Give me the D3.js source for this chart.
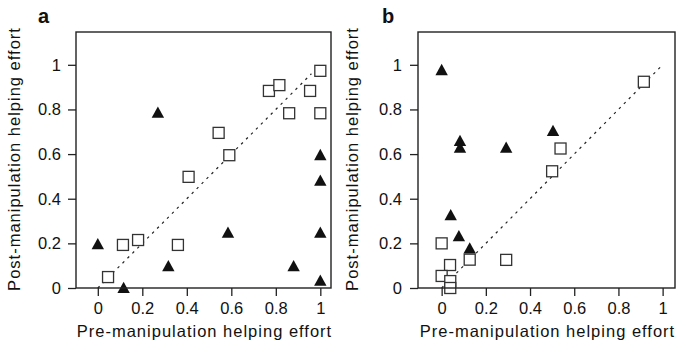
<!DOCTYPE html>
<html><head><meta charset="utf-8">
<script src="https://cdn.jsdelivr.net/npm/d3@7"></script>
<style>body{margin:0;background:#fff}svg{display:block}text{font-family:"Liberation Sans",Arial,sans-serif;fill:#111}</style>
</head><body><svg id="c" width="678" height="348"></svg>
<script>
// Panel a data
const aSquaresX = [1.0, 0.769, 0.816, 0.954, 0.86, 1.0, 0.543, 0.591, 0.408, 0.113, 0.181, 0.36, 0.046];
const aSquaresY = [0.973, 0.883, 0.909, 0.883, 0.783, 0.783, 0.695, 0.595, 0.498, 0.193, 0.215, 0.193, 0.049];
const aTrianglesX = [0.27, 1.0, 1.0, 0.0, 0.116, 0.317, 0.585, 1.0, 0.88, 1.0];
const aTrianglesY = [0.782, 0.592, 0.477, 0.193, -0.003, 0.094, 0.244, 0.244, 0.094, 0.029];
const aLine = [[0, 0], [0.96, 0.96]];
// Panel b data
const bSquaresX = [0.915, 0.538, 0.5, 0.0, 0.127, 0.292, 0.038, 0.0, 0.039, 0.039];
const bSquaresY = [0.924, 0.625, 0.523, 0.2, 0.127, 0.126, 0.103, 0.054, 0.031, 0.0];
const bTrianglesX = [0.0, 0.083, 0.083, 0.292, 0.504, 0.041, 0.078, 0.127];
const bTrianglesY = [0.973, 0.655, 0.625, 0.625, 0.70, 0.323, 0.229, 0.174];
const bLine = [[0, 0], [0.99, 0.99]];
const tickValues = [0, 0.2, 0.4, 0.6, 0.8, 1];
const xTitle = "Pre-manipulation helping effort";
const yTitle = "Post-manipulation helping effort";

const svg = d3.select("#c");
const fmt = d3.format("~g");

function panel(o) {
  const x = d3.scaleLinear().domain(o.xd).range([o.left, o.right]);
  const y = d3.scaleLinear().domain([0, 1.147]).range([288, 32]);
  const g = svg.append("g");
  g.append("line")
    .attr("x1", x(o.line[0][0])).attr("y1", y(o.line[0][1]))
    .attr("x2", x(o.line[1][0])).attr("y2", y(o.line[1][1]))
    .attr("stroke", "#222").attr("stroke-width", 1.2).attr("stroke-dasharray", "2.5,4.5");
  const s = 11;
  g.selectAll(".sq").data(o.sx.map((v, i) => [v, o.sy[i]])).join("rect")
    .attr("x", d => x(d[0]) - s / 2).attr("y", d => y(d[1]) - s / 2)
    .attr("width", s).attr("height", s)
    .attr("fill", "#fff").attr("stroke", "#333").attr("stroke-width", 1.3);
  g.selectAll(".tr").data(o.tx.map((v, i) => [v, o.ty[i]])).join("path")
    .attr("transform", d => `translate(${x(d[0])},${y(d[1])})`)
    .attr("d", "M0,-7L6.2,4.3L-6.2,4.3Z").attr("fill", "#111");
  g.append("rect").attr("x", o.left).attr("y", 32)
    .attr("width", o.right - o.left).attr("height", 288 - 32)
    .attr("fill", "none").attr("stroke", "#222").attr("stroke-width", 1.4);
  const ax = g.append("g").attr("transform", "translate(0,288)")
    .call(d3.axisBottom(x).tickValues(tickValues).tickFormat(fmt).tickSize(8).tickPadding(6.5));
  const ay = g.append("g").attr("transform", `translate(${o.left},0)`)
    .call(d3.axisLeft(y).tickValues(tickValues).tickFormat(fmt).tickSize(8).tickPadding(o.ypad));
  [ax, ay].forEach(a => {
    a.select(".domain").remove();
    a.selectAll(".tick line").attr("stroke", "#222").attr("stroke-width", 1.3);
    a.selectAll("text").attr("font-size", 16.5).attr("fill", "#111")
      .style("font-family", '"Liberation Sans",Arial,sans-serif');
  });
  g.append("text").attr("x", (o.left + o.right) / 2 + 1).attr("y", 337)
    .attr("text-anchor", "middle").attr("font-size", 16.5).style("letter-spacing", "1px")
    .text(xTitle);
  g.append("text").attr("transform", `translate(${o.ytx},159) rotate(-90)`)
    .attr("text-anchor", "middle").attr("font-size", 16.5).style("letter-spacing", "1px")
    .text(yTitle);
  g.append("text").attr("x", o.labx).attr("y", 23)
    .attr("font-size", 20).attr("font-weight", "bold").text(o.label);
}

panel({xd: [-0.098, 1.048], left: 76, right: 331, line: aLine,
  sx: aSquaresX, sy: aSquaresY, tx: aTrianglesX, ty: aTrianglesY,
  ypad: 7, ytx: 20, labx: 38, label: "a"});
panel({xd: [-0.107, 1.056], left: 418, right: 675, line: bLine,
  sx: bSquaresX, sy: bSquaresY, tx: bTrianglesX, ty: bTrianglesY,
  ypad: 8, ytx: 358, labx: 382, label: "b"});
</script></body></html>
